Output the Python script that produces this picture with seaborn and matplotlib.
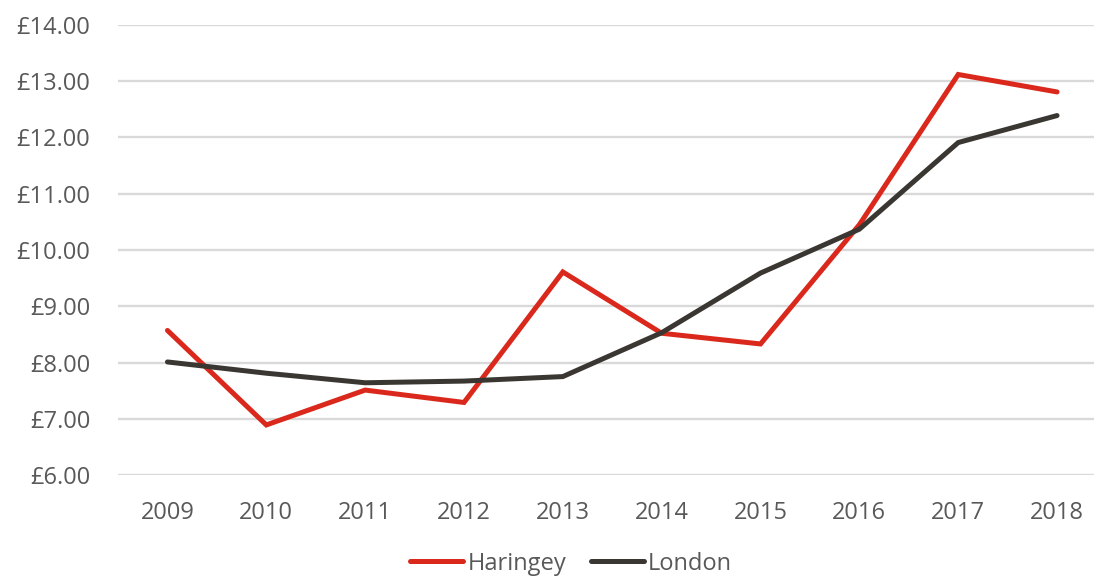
import matplotlib
matplotlib.use("Agg")
import matplotlib.pyplot as plt
import seaborn as sns
import pandas as pd
from matplotlib.ticker import FuncFormatter, MultipleLocator

years = ["2009", "2010", "2011", "2012", "2013", "2014", "2015", "2016", "2017", "2018"]
haringey = [8.57, 6.89, 7.51, 7.29, 9.61, 8.52, 8.33, 10.45, 13.12, 12.81]
london = [8.01, 7.81, 7.64, 7.67, 7.75, 8.53, 9.59, 10.37, 11.91, 12.39]
series_names = ["Haringey", "London"]
colors = {"Haringey": "#DA291C", "London": "#3A3733"}

df = pd.concat([
    pd.DataFrame({"year": years, "value": haringey, "area": series_names[0]}),
    pd.DataFrame({"year": years, "value": london, "area": series_names[1]}),
])
df["x"] = df["year"].map({y: i for i, y in enumerate(years)})

sns.set_theme(style="white")
plt.rcParams["font.family"] = ["Open Sans", "DejaVu Sans"]

fig = plt.figure(figsize=(10.94, 5.81), dpi=100)
ax = fig.add_axes([0.1079, 0.1824, 0.9035, 0.7746])

sns.lineplot(data=df, x="x", y="value", hue="area", palette=colors,
             linewidth=3.6, ax=ax, legend=False, sort=False,
             solid_capstyle="round", solid_joinstyle="miter")

ax.set_xlim(-0.5, len(years) - 0.5)
ax.set_ylim(6, 14)
ax.yaxis.set_major_locator(MultipleLocator(1))
ax.yaxis.set_major_formatter(FuncFormatter(lambda v, p: f"£{v:.2f}"))
ax.set_xticks(range(len(years)))
ax.set_xticklabels(years)
ax.grid(axis="y", color="#D9D9D9", linewidth=1.7)
ax.set_axisbelow(True)
for s in ax.spines.values():
    s.set_visible(False)
ax.tick_params(axis="both", length=0, labelsize=17, labelcolor="#595959")
ax.tick_params(axis="y", pad=20)
ax.tick_params(axis="x", pad=19)
ax.set_xlabel("")
ax.set_ylabel("")

handles = [plt.Line2D([], [], color=colors[n], linewidth=3.6, solid_capstyle="round")
           for n in series_names]
fig.legend(handles, series_names, loc="center", bbox_to_anchor=(0.522, 0.03),
           ncol=2, frameon=False, fontsize=17, labelcolor="#595959",
           handlelength=2.25, handletextpad=0.17, columnspacing=1.05,
           borderpad=0.0)

fig.savefig("out.png", dpi=100)
